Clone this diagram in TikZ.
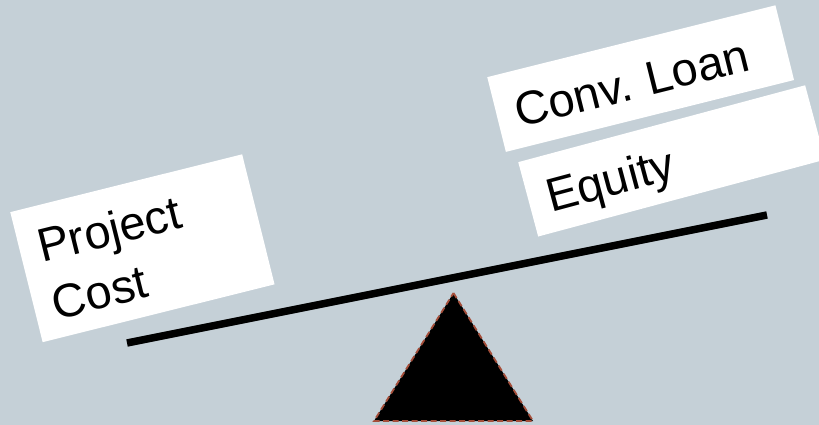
\documentclass[tikz,border=0pt]{standalone}
\usepackage{fontspec}
\setmainfont{Liberation Sans}
\usepackage{xcolor}
\definecolor{bgblue}{RGB}{197,208,215}
\definecolor{rust}{RGB}{165,78,58}

\begin{document}
\begin{tikzpicture}[x=1pt,y=-1pt,line cap=butt,
  card/.style={fill=white,anchor=north west,inner xsep=19pt,inner ysep=0pt,
    align=left,text height=57pt,font=\fontsize{47}{59}\selectfont}]
\useasboundingbox (0,0) rectangle (819,425);
\clip (0,0) rectangle (819,425);
\fill[bgblue] (0,0) rectangle (819,425);
% boxes
\node[card,rotate=14,text width=201pt,text depth=77pt] (cost) at (10,212) {Project\\Cost};
\node[card,rotate=14,text width=259pt,text depth=20pt] (loan) at (487,77) {Conv.\ Loan};
\node[card,rotate=15,text width=259pt,text depth=20pt] (equity) at (518,162) {Equity};
% beam and pivot
\coordinate (beamL) at (127,343);
\coordinate (beamR) at (767,215);
\draw[line width=7.5pt] (beamL) -- (beamR);
\coordinate (top) at (453.5,293);
\coordinate (baseL) at (374,421);
\coordinate (baseR) at (533,421);
\draw[fill=black,draw=rust,line width=1.8pt,dash pattern=on 6pt off 3.5pt] (top) -- (baseR) -- (baseL) -- cycle;
\end{tikzpicture}
\end{document}
